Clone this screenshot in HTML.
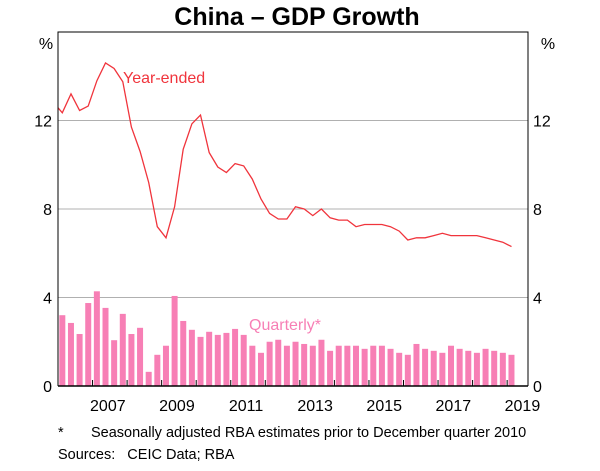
<!DOCTYPE html>
<html><head><meta charset="utf-8"><style>
body{margin:0;background:#fff;}
svg text{font-family:"Liberation Sans",Arial,sans-serif;}
</style></head><body>
<svg id="chart" width="600" height="466" viewBox="0 0 600 466">
<text x="297" y="25" text-anchor="middle" font-size="25" font-weight="bold">China – GDP Growth</text>
<text x="46" y="49" text-anchor="middle" font-size="16">%</text>
<text x="548" y="49" text-anchor="middle" font-size="16">%</text>
<g id="grid"></g>
<g id="bars"></g>
<path id="line" fill="none" stroke="#f0343c" stroke-width="1.3" clip-path="url(#clip)"/>
<clipPath id="clip"><rect x="58" y="32" width="470" height="354"/></clipPath>
<g id="axes"></g>
<text x="123" y="83" font-size="16" fill="#f0343c">Year-ended</text>
<text x="249" y="330" font-size="16" fill="#f77fb5">Quarterly*</text>
<text x="58" y="437" font-size="14.5">*</text>
<text x="91" y="437" font-size="14.5">Seasonally adjusted RBA estimates prior to December quarter 2010</text>
<text x="58" y="459" font-size="14.5" xml:space="preserve">Sources:   CEIC Data; RBA</text>
</svg>
<script>
const yTicks=[0,4,8,12];
const yearLabels=[2007,2009,2011,2013,2015,2017,2019];
// quarterly growth, 2006Q1..2019Q1
const quarterly=[3.2,2.85,2.35,3.75,4.28,3.53,2.07,3.26,2.35,2.63,0.64,1.41,1.82,4.07,2.94,2.54,2.22,2.45,2.31,2.4,2.58,2.31,1.82,1.5,2.0,2.09,1.82,2.0,1.9,1.82,2.09,1.59,1.82,1.82,1.82,1.68,1.82,1.82,1.68,1.5,1.41,1.9,1.68,1.59,1.5,1.82,1.68,1.59,1.5,1.68,1.59,1.5,1.41];
// year-ended growth, 2005Q4..2019Q1
const yearEnded=[12.8,12.35,13.2,12.45,12.65,13.8,14.6,14.35,13.75,11.7,10.6,9.2,7.2,6.7,8.1,10.7,11.85,12.25,10.55,9.9,9.65,10.05,9.95,9.35,8.45,7.8,7.55,7.55,8.1,8.0,7.7,8.0,7.6,7.5,7.5,7.2,7.3,7.3,7.3,7.2,7.0,6.6,6.7,6.7,6.8,6.9,6.8,6.8,6.8,6.8,6.7,6.6,6.5,6.3];
const L=58,R=528,T=32,B=386,startYear=2006,yrW=34.55,qW=yrW/4;
const y=v=>B-v*(B-T)/16;
const xq=i=>L+(i+0.5)*qW;
const NS='http://www.w3.org/2000/svg';
function mk(tag,attrs,parent){const e=document.createElementNS(NS,tag);for(const k in attrs)e.setAttribute(k,attrs[k]);document.getElementById(parent).appendChild(e);return e;}
yTicks.forEach(t=>{
  if(t>0){const g=mk('line',{x1:L,x2:R,y1:y(t),y2:y(t),stroke:'#b0b0b0','stroke-width':1},'grid');
  
  }
  const a=mk('text',{x:52,y:y(t)+6,'text-anchor':'end','font-size':16},'axes');a.textContent=t;
  
  
  const b=mk('text',{x:533,y:y(t)+6,'font-size':16},'axes');b.textContent=t;
  
  
});
quarterly.forEach((v,i)=>{
  const r=mk('rect',{x:xq(i)-3,y:y(v),width:6,height:B-y(v),fill:'#f77fb5'},'bars');
  
  
});
document.getElementById('line').setAttribute('d',yearEnded.map((v,i)=>(i?'L':'M')+xq(i-1).toFixed(1)+' '+y(v).toFixed(1)).join(' '));
const box=mk('path',{d:`M${L} ${B}V${T}H${R}V${B}`,fill:'none',stroke:'#000','stroke-width':1},'axes');


const xa=mk('line',{x1:L,x2:R,y1:B,y2:B,stroke:'#000','stroke-width':1.5},'axes');


for(let k=1;k<=13;k++){const tk=mk('line',{x1:L+k*yrW,x2:L+k*yrW,y1:B,y2:B-6,stroke:'#000'},'axes');
  
  }
yearLabels.forEach(yr=>{
  const t=mk('text',{x:L+(yr-startYear+0.5)*yrW-2,y:411,'text-anchor':'middle','font-size':16},'axes');t.textContent=yr;
  
  
});
</script>
</body></html>
